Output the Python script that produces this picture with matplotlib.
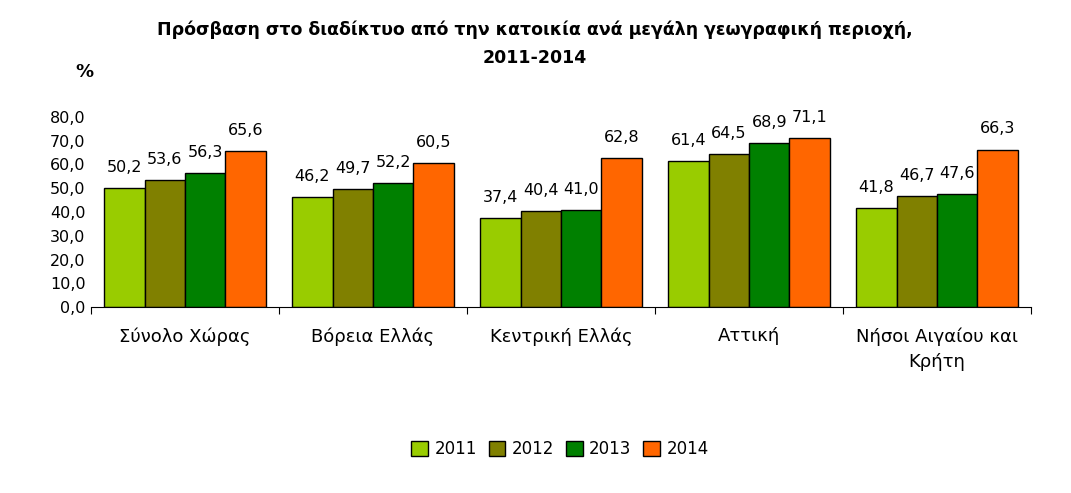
import numpy as np
import matplotlib.pyplot as plt

# Δεδομένα
categories = ["Σύνολο Χώρας", "Βόρεια Ελλάς", "Κεντρική Ελλάς", "Αττική", "Νήσοι Αιγαίου και\nΚρήτη"]
years = ["2011", "2012", "2013", "2014"]
v2011 = [50.2, 46.2, 37.4, 61.4, 41.8]
v2012 = [53.6, 49.7, 40.4, 64.5, 46.7]
v2013 = [56.3, 52.2, 41.0, 68.9, 47.6]
v2014 = [65.6, 60.5, 62.8, 71.1, 66.3]
series = [v2011, v2012, v2013, v2014]
colors = ["#99CC00", "#808000", "#008000", "#FF6600"]

plt.rcParams['font.family'] = ['DejaVu Sans']

fig = plt.figure(figsize=(10.71, 4.93), dpi=100)
ax = fig.add_axes([91 / 1071, 1 - 307 / 493, 940 / 1071, 190 / 493])

x = np.arange(len(categories))
w = 0.215
for i, (vals, c) in enumerate(zip(series, colors)):
    pos = x + (i - 1.5) * w
    bars = ax.bar(pos, vals, w, color=c, edgecolor="black", linewidth=1, label=years[i])
    for b, v in zip(bars, vals):
        ax.text(b.get_x() + b.get_width() / 2, v + 5.5, f"{v:.1f}".replace(".", ","),
                ha="center", va="bottom", fontsize=11.5)

ax.set_xlim(-0.5, len(categories) - 0.5)
ax.set_ylim(0, 80)
ax.set_yticks(np.arange(0, 81, 10))
ax.set_yticklabels([f"{t:.1f}".replace(".", ",") for t in np.arange(0, 81, 10)], fontsize=11.5)
ax.tick_params(axis="y", length=0, pad=4)

# ticks on the category boundaries
ax.set_xticks(np.arange(-0.5, len(categories), 1))
ax.set_xticklabels([])
ax.tick_params(axis="x", direction="out", length=5)
for xi, lab in zip(x, categories):
    ax.text(xi, -8.5, lab, ha="center", va="top", fontsize=13, linespacing=1.5)

for s in ["top", "right", "left"]:
    ax.spines[s].set_visible(False)

fig.text(535 / 1071, 1 - 44 / 493,
         "Πρόσβαση στο διαδίκτυο από την κατοικία ανά μεγάλη γεωγραφική περιοχή,\n2011-2014",
         ha="center", va="center", fontsize=12.5, fontweight="bold", linespacing=1.7)
fig.text(84 / 1071, 1 - 72 / 493, "%", ha="center", va="center", fontsize=13, fontweight="bold")

fig.legend(loc="center", bbox_to_anchor=(560 / 1071, 1 - 449 / 493), ncol=4, frameon=False,
           fontsize=12, handlelength=1, handleheight=1, handletextpad=0.4, columnspacing=0.7)

fig.savefig("out.png", dpi=100)
